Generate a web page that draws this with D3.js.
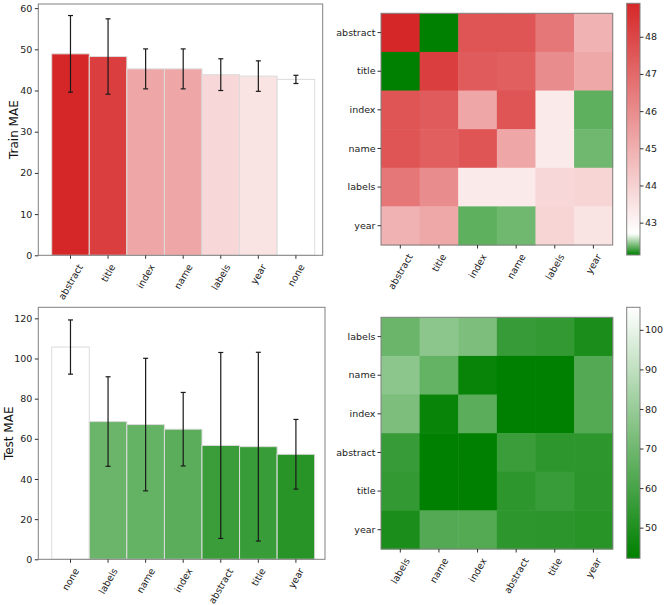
<!DOCTYPE html>
<html>
<head>
<meta charset="utf-8">
<script src="https://cdn.jsdelivr.net/npm/d3@7"></script>
<style>
  body { margin: 0; background: #fff; }
  svg { font-family: "DejaVu Sans", sans-serif; }
</style>
</head>
<body>
<svg id="fig" width="665" height="605"></svg>
<script>
// Train / test MAE per feature
const trainNames = ["abstract", "title", "index", "name", "labels", "year", "none"];
const trainMean = [48.9, 48.25, 45.25, 45.25, 43.85, 43.5, 42.7];
const trainErr = [9.3, 9.15, 4.85, 4.85, 3.85, 3.7, 1.0];

const testNames = ["none", "labels", "name", "index", "abstract", "title", "year"];
const testMean = [105.7, 68.6, 67.1, 64.8, 56.7, 56.1, 52.3];
const testErr = [13.5, 22.3, 33.0, 18.3, 46.3, 47.0, 17.35];

// Pairwise feature MAE
const trainPairNames = ["abstract", "title", "index", "name", "labels", "year"];
const trainPairs = [
    [48.9, 42.13, 47.6, 47.6, 46.6, 44.9],
    [42.13, 48.25, 47.4, 47.3, 46.0, 45.2],
    [47.6, 47.4, 45.25, 47.6, 43.3, 42.34],
    [47.6, 47.3, 47.6, 45.25, 43.3, 42.38],
    [46.6, 46.0, 43.3, 43.3, 43.85, 43.9],
    [44.9, 45.2, 42.34, 42.38, 43.9, 43.5],
];

const testPairNames = ["labels", "name", "index", "abstract", "title", "year"];
const testPairs = [
    [68.6, 77.0, 73.3, 55.9, 55.0, 48.6],
    [77.0, 67.1, 44.2, 42.25, 42.25, 63.2],
    [73.3, 44.2, 64.8, 42.25, 42.25, 63.0],
    [55.9, 42.25, 42.25, 56.7, 53.5, 53.5],
    [55.0, 42.25, 42.25, 53.5, 56.1, 53.3],
    [48.6, 63.2, 63.0, 53.5, 53.3, 52.3],
];

const trainTicks = [0, 10, 20, 30, 40, 50, 60];
const testTicks = [0, 20, 40, 60, 80, 100, 120];
const trainCbTicks = [43, 44, 45, 46, 47, 48];
const testCbTicks = [50, 60, 70, 80, 90, 100];

const FONT = 9.5;
const FRAME = "#808080";
const svg = d3.select("#fig");

// green -> white (baseline) -> red
function makeColor(matrix, baseline) {
    const flat = matrix.flat();
    const vmin = d3.min(flat);
    const vmax = Math.max(d3.max(flat), baseline);
    const c = vmax > baseline
        ? d3.scaleLinear().domain([vmin, baseline, vmax]).range(["green", "white", "#d62728"])
        : d3.scaleLinear().domain([vmin, baseline]).range(["green", "white"]);
    c.clamp(true);
    c.vmin = vmin;
    c.vmax = vmax;
    return c;
}

// matplotlib-like rotated tick label: bbox centred on x, top at yTop
function rotLabel(g, x, yTop, text) {
    const lg = g.append("g");
    const t = lg.append("text")
        .attr("text-anchor", "middle")
        .attr("dominant-baseline", "central")
        .attr("font-size", FONT)
        .attr("fill", "#222")
        .attr("transform", "rotate(-60)")
        .text(text);
    const L = t.node().getComputedTextLength();
    const h = FONT * 1.1;
    const H = L * Math.sin(Math.PI / 3) + h * Math.cos(Math.PI / 3);
    lg.attr("transform", `translate(${x},${yTop + H / 2})`);
}

function styleAxis(ax) {
    ax.select(".domain").remove();
    ax.selectAll(".tick line").attr("stroke", "#333");
    ax.selectAll(".tick text").attr("font-size", FONT).attr("fill", "#222")
        .attr("font-family", "DejaVu Sans");
}

function barPanel(p) {
    const g = svg.append("g");
    const x = d3.scaleLinear().domain([-0.5, p.names.length - 0.5]).range([p.barLeft, p.barRight]);
    const y = d3.scaleLinear().domain([0, p.yMax]).range([p.bottom, p.top]);
    const w = x(1) - x(0);

    g.selectAll("rect.bar")
        .data(p.values)
        .join("rect")
        .attr("x", (d, i) => x(i) - w / 2)
        .attr("y", (d) => y(d))
        .attr("width", w)
        .attr("height", (d) => y(0) - y(d))
        .attr("fill", (d) => p.color(d))
        .attr("stroke", "#dcdcdc")
        .attr("stroke-width", 1);

    // error bars
    const eb = g.selectAll("g.err").data(p.values).join("g");
    eb.append("line")
        .attr("x1", (d, i) => x(i)).attr("x2", (d, i) => x(i))
        .attr("y1", (d, i) => y(d + p.errs[i])).attr("y2", (d, i) => y(d - p.errs[i]));
    eb.append("line")
        .attr("x1", (d, i) => x(i) - 2.5).attr("x2", (d, i) => x(i) + 2.5)
        .attr("y1", (d, i) => y(d + p.errs[i])).attr("y2", (d, i) => y(d + p.errs[i]));
    eb.append("line")
        .attr("x1", (d, i) => x(i) - 2.5).attr("x2", (d, i) => x(i) + 2.5)
        .attr("y1", (d, i) => y(d - p.errs[i])).attr("y2", (d, i) => y(d - p.errs[i]));
    eb.selectAll("line").attr("stroke", "#1a1a1a").attr("stroke-width", 1.2);

    // frame
    g.append("rect")
        .attr("x", p.left).attr("y", p.top)
        .attr("width", p.right - p.left).attr("height", p.bottom - p.top)
        .attr("fill", "none").attr("stroke", FRAME);

    // y axis
    const yAxis = g.append("g")
        .attr("transform", `translate(${p.left},0)`)
        .call(d3.axisLeft(y).tickValues(p.ticks).tickSize(3.5).tickPadding(2.5));
    styleAxis(yAxis);

    // x ticks + rotated labels
    p.names.forEach((n, i) => {
        g.append("line")
            .attr("x1", x(i)).attr("x2", x(i))
            .attr("y1", p.bottom).attr("y2", p.bottom + 3.5)
            .attr("stroke", "#333");
        rotLabel(g, x(i), p.bottom + 7, n);
    });

    g.append("text")
        .attr("transform", `translate(${p.labelX},${(p.top + p.bottom) / 2}) rotate(-90)`)
        .attr("text-anchor", "middle")
        .attr("dominant-baseline", "central")
        .attr("font-size", 12)
        .attr("fill", "#111")
        .text(p.label);
}

function heatPanel(p) {
    const g = svg.append("g");
    const x = d3.scaleBand().domain(p.names).range([p.left, p.left + p.size]);
    const y = d3.scaleBand().domain(p.names).range([p.top, p.top + p.size]);

    p.matrix.forEach((row, r) => {
        g.selectAll(null)
            .data(row)
            .join("rect")
            .attr("x", (d, c) => x(p.names[c]))
            .attr("y", y(p.names[r]))
            .attr("width", x.bandwidth() + 0.5)
            .attr("height", y.bandwidth() + 0.5)
            .attr("fill", (d) => p.color(d));
    });

    g.append("rect")
        .attr("x", p.left).attr("y", p.top)
        .attr("width", p.size).attr("height", p.size)
        .attr("fill", "none").attr("stroke", FRAME);

    const yAxis = g.append("g")
        .attr("transform", `translate(${p.left},0)`)
        .call(d3.axisLeft(y).tickSize(3.5).tickPadding(2));
    styleAxis(yAxis);

    const bottom = p.top + p.size;
    p.names.forEach((n) => {
        const cx = x(n) + x.bandwidth() / 2;
        g.append("line")
            .attr("x1", cx).attr("x2", cx)
            .attr("y1", bottom).attr("y2", bottom + 3.5)
            .attr("stroke", "#333");
        rotLabel(g, cx, bottom + 7, n);
    });

    // colorbar
    const cb = p.cb;
    const cy = d3.scaleLinear().domain([p.color.vmin, p.color.vmax]).range([cb.bottom, cb.top]);
    const gradId = "grad-" + p.id;
    const grad = svg.append("defs").append("linearGradient")
        .attr("id", gradId)
        .attr("x1", 0).attr("y1", 1).attr("x2", 0).attr("y2", 0);
    d3.range(0, 1.0001, 0.01).forEach((t) => {
        grad.append("stop")
            .attr("offset", t)
            .attr("stop-color", p.color(p.color.vmin + t * (p.color.vmax - p.color.vmin)));
    });
    g.append("rect")
        .attr("x", cb.left).attr("y", cb.top)
        .attr("width", cb.width).attr("height", cb.bottom - cb.top)
        .attr("fill", `url(#${gradId})`)
        .attr("stroke", FRAME);
    const cAxis = g.append("g")
        .attr("transform", `translate(${cb.left + cb.width},0)`)
        .call(d3.axisRight(cy).tickValues(cb.ticks).tickFormat(d3.format("d"))
            .tickSize(3.5).tickPadding(1.5));
    styleAxis(cAxis);
}

const trainColor = makeColor(trainPairs, trainMean[trainNames.indexOf("none")]);
const testColor = makeColor(testPairs, testMean[testNames.indexOf("none")]);

const TRAIN_BARS = {
    names: trainNames, values: trainMean, errs: trainErr, ticks: trainTicks,
    color: trainColor, label: "Train MAE", yMax: 61,
    left: 38.3, right: 322.7, top: 4, bottom: 255.3,
    barLeft: 51.7, barRight: 314.7, labelX: 14,
};
const TEST_BARS = {
    names: testNames, values: testMean, errs: testErr, ticks: testTicks,
    color: testColor, label: "Test MAE", yMax: 125.5,
    left: 38.3, right: 325, top: 307.3, bottom: 559.3,
    barLeft: 51.7, barRight: 314.7, labelX: 8.5,
};
const TRAIN_HEAT = {
    id: "train", names: trainPairNames, matrix: trainPairs, color: trainColor,
    left: 381, top: 13.3, size: 231.7,
    cb: { left: 626.7, width: 13.3, top: 3.3, bottom: 255, ticks: trainCbTicks },
};
const TEST_HEAT = {
    id: "test", names: testPairNames, matrix: testPairs, color: testColor,
    left: 381, top: 317.3, size: 231.7,
    cb: { left: 626.7, width: 13.3, top: 307.3, bottom: 558.3, ticks: testCbTicks },
};

barPanel(TRAIN_BARS);
barPanel(TEST_BARS);
heatPanel(TRAIN_HEAT);
heatPanel(TEST_HEAT);
</script>
</body>
</html>
